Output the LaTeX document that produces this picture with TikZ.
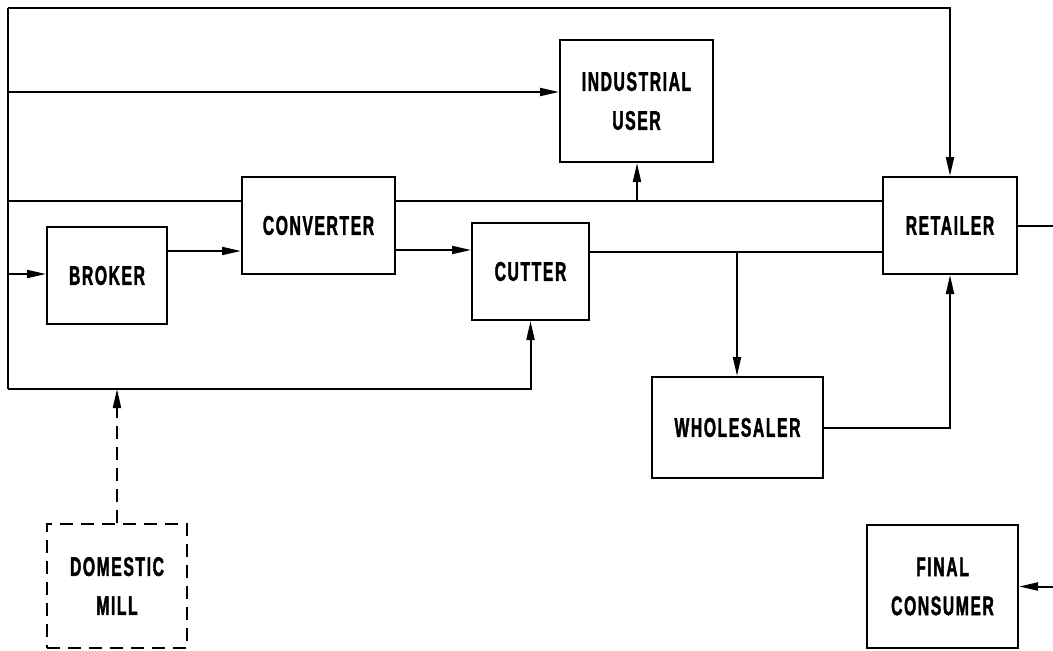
\documentclass[tikz,border=0pt]{standalone}
\usepackage{fontspec}
\newfontfamily\labfont{Liberation Sans}[FakeStretch=0.58,LetterSpace=6,FakeBold=1.5]
\usetikzlibrary{arrows.meta,calc}
\tikzset{
  box/.style={draw,line width=2pt,minimum width=#1,inner sep=0pt,align=center,
    font=\labfont\bfseries\fontsize{27}{39}\selectfont},
  conn/.style={line width=2pt},
  arr/.style={conn,-{Triangle[length=19pt,width=8pt]}},
  dbox/.style={box=#1,dash pattern=on 13pt off 8pt},
}
\begin{document}
\begin{tikzpicture}[x=1pt,y=-1pt]
\useasboundingbox (0,0) rectangle (1053,651);
% boxes
\node[box=153pt,minimum height=122pt] (iu) at (636.5,101) {INDUSTRIAL\\USER};
\node[box=153pt,minimum height=97pt] (conv) at (318.5,225.5) {CONVERTER};
\node[box=120pt,minimum height=97pt] (brok) at (107,275.5) {BROKER};
\node[box=117pt,minimum height=97pt] (cut) at (530.5,271.5) {CUTTER};
\node[box=134pt,minimum height=97pt] (ret) at (950,225.5) {RETAILER};
\node[box=171pt,minimum height=101pt] (whol) at (737.5,427.5) {WHOLESALER};
\node[box=151pt,minimum height=123pt] (fc) at (942.5,586.5) {FINAL\\CONSUMER};
\node[dbox=140pt,minimum height=124pt] (dm) at (117,586) {DOMESTIC\\MILL};
% helper coordinates
\coordinate (tl) at (8,8);
\coordinate (bl) at (8,389);
\coordinate (l92) at (8,92);
\coordinate (l201) at (8,201);
\coordinate (l274) at (8,274);
\coordinate (y251) at (0,251);
\coordinate (y250) at (0,250);
\coordinate (y252) at (0,252);
\coordinate (bx) at (637,0);
\coordinate (wx) at (737,0);
\coordinate (redge) at (1053,0);
% connectors
\draw[conn] (tl) -- (bl);
\draw[arr] (tl) -| (ret.north);
\draw[arr] (l92) -- (l92 -| iu.west);
\draw[conn] (l201) -- (l201 -| conv.west);
\draw[conn] (conv.east |- l201) -- (ret.west |- l201);
\draw[arr] (bx |- l201) -- (bx |- iu.south);
\draw[arr] (l274) -- (l274 -| brok.west);
\draw[arr] (brok.east |- y251) -- (conv.west |- y251);
\draw[arr] (conv.east |- y250) -- (cut.west |- y250);
\draw[conn] (cut.east |- y252) -- (ret.west |- y252);
\draw[arr] (wx |- y252) -- (wx |- whol.north);
\draw[arr] (whol.east) -| (ret.south);
\draw[conn] (ret.east) -- (ret.east -| redge);
\draw[arr] (redge |- fc.east) -- (fc.east);
\draw[arr] (bl) -| (cut.south);
\draw[arr,dash pattern=on 13pt off 8pt] (dm.north) -- (dm.north |- bl);
\end{tikzpicture}
\end{document}
